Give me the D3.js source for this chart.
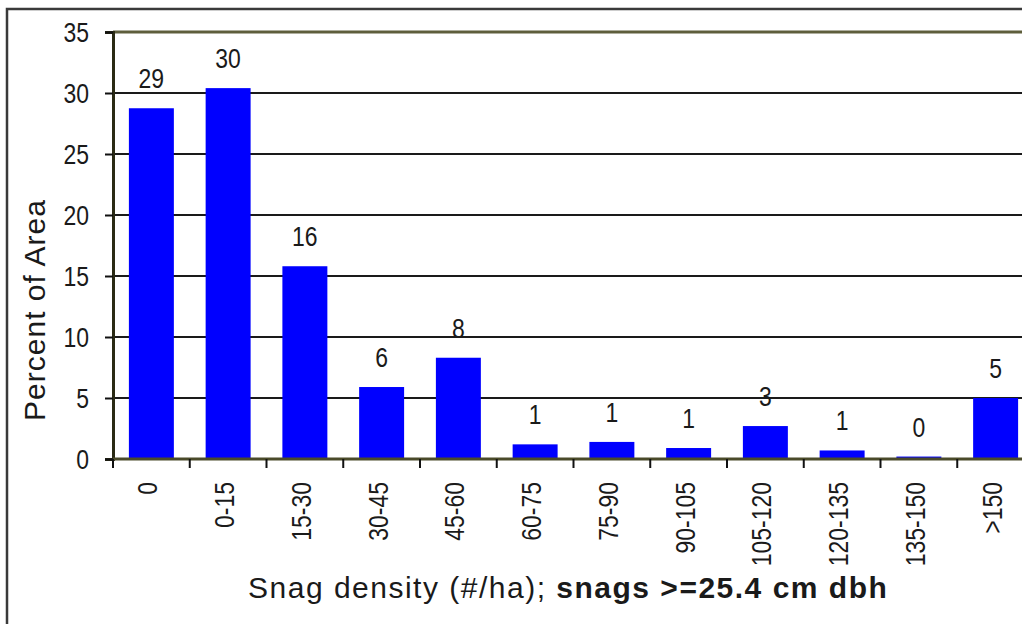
<!DOCTYPE html>
<html>
<head>
<meta charset="utf-8">
<script src="https://cdn.jsdelivr.net/npm/d3@7"></script>
<style>
  html, body { margin: 0; padding: 0; background: #fff; }
  svg { display: block; }
  .num { font-family: "Liberation Sans", Arial, sans-serif; font-size: 28px; fill: #1a1a1a; }
  .ttl { font-family: "Liberation Sans", Arial, sans-serif; font-size: 30px; fill: #1a1a1a; }
</style>
</head>
<body>
<svg id="chart" width="1022" height="624"></svg>
<script>
// snag density classes (#/ha)
const categories = ["0", "0-15", "15-30", "30-45", "45-60", "60-75", "75-90", "90-105", "105-120", "120-135", "135-150", ">150"];
// percent of area
const values = [28.75, 30.4, 15.8, 5.9, 8.3, 1.2, 1.4, 0.9, 2.7, 0.7, 0.2, 5.0];
const yTicks = [0, 5, 10, 15, 20, 25, 30, 35];

const svg = d3.select("#chart");
const plotL = 113, plotT = 32, plotB = 459, plotR = 1034;
const squeeze = 0.82; // the numbers in the original are drawn in a narrow face

// outer frame (only the left and top edges fall inside the picture)
svg.append("path")
  .attr("d", "M7,624V9H1022")
  .attr("fill", "none")
  .attr("stroke", "#3a3a3a")
  .attr("stroke-width", 2.5);

const x = d3.scaleBand()
  .domain(categories)
  .range([plotL, plotR])
  .paddingInner(0.414)
  .paddingOuter(0.207);

const y = d3.scaleLinear()
  .domain([0, 35])
  .range([plotB, plotT]);

// gridlines
svg.append("g")
  .selectAll("line")
  .data(yTicks.filter(d => d > 0 && d < 35))
  .join("line")
  .attr("x1", plotL).attr("x2", plotR)
  .attr("y1", d => y(d)).attr("y2", d => y(d))
  .attr("stroke", "#1a1a1a")
  .attr("stroke-width", 2);

// top edge of plot area
svg.append("line")
  .attr("x1", plotL).attr("x2", plotR)
  .attr("y1", y(35)).attr("y2", y(35))
  .attr("stroke", "#5e5e3c")
  .attr("stroke-width", 3);

// bars
svg.append("g")
  .selectAll("rect")
  .data(values)
  .join("rect")
  .attr("x", (d, i) => x(categories[i]))
  .attr("y", d => y(d))
  .attr("width", x.bandwidth())
  .attr("height", d => y(0) - y(d))
  .attr("fill", "#0000ff");

// value labels
svg.append("g")
  .selectAll("text")
  .data(values)
  .join("text")
  .attr("class", "num")
  .attr("transform", (d, i) => `translate(${x(categories[i]) + x.bandwidth() / 2},${y(d) - 20}) scale(${squeeze},1)`)
  .attr("text-anchor", "middle")
  .text(d => Math.round(d));

// y axis (labels drawn by hand so they can be narrowed)
const yAxis = svg.append("g")
  .attr("transform", `translate(${plotL},0)`)
  .call(d3.axisLeft(y).tickValues(yTicks).tickSize(8).tickFormat(""));
yAxis.select(".domain").attr("stroke", "#2a2a14").attr("stroke-width", 3);
yAxis.selectAll(".tick line").attr("stroke", "#111").attr("stroke-width", 2);

svg.append("g")
  .selectAll("text")
  .data(yTicks)
  .join("text")
  .attr("class", "num")
  .attr("transform", d => `translate(89,${y(d)}) scale(${squeeze},1)`)
  .attr("text-anchor", "end")
  .attr("dy", "0.36em")
  .text(d => d);

// x axis: line along zero with ticks between categories
svg.append("line")
  .attr("x1", plotL).attr("x2", plotR)
  .attr("y1", plotB).attr("y2", plotB)
  .attr("stroke", "#4a4a2a")
  .attr("stroke-width", 3);

const gap = (x.step() - x.bandwidth()) / 2;
const tickPos = categories.map(c => x(c) - gap);
svg.append("g")
  .selectAll("line")
  .data(tickPos)
  .join("line")
  .attr("x1", d => d).attr("x2", d => d)
  .attr("y1", plotB).attr("y2", plotB + 9)
  .attr("stroke", "#111")
  .attr("stroke-width", 2);

svg.append("g")
  .selectAll("text")
  .data(categories)
  .join("text")
  .attr("class", "num")
  .attr("transform", d => `translate(${x(d) + x.bandwidth() / 2 - 4},482) rotate(-90) scale(${squeeze},1)`)
  .attr("text-anchor", "end")
  .attr("dy", "0.36em")
  .text(d => d);

// axis titles
svg.append("text")
  .attr("class", "ttl")
  .attr("transform", "translate(45,310) rotate(-90)")
  .attr("text-anchor", "middle")
  .style("letter-spacing", "1px")
  .text("Percent of Area");

const xt = svg.append("text")
  .attr("class", "ttl")
  .attr("x", 248)
  .attr("y", 598)
  .style("letter-spacing", "1.5px");
xt.append("tspan").text("Snag density (#/ha); ");
xt.append("tspan").attr("font-weight", "bold").text("snags >=25.4 cm dbh");
</script>
</body>
</html>
